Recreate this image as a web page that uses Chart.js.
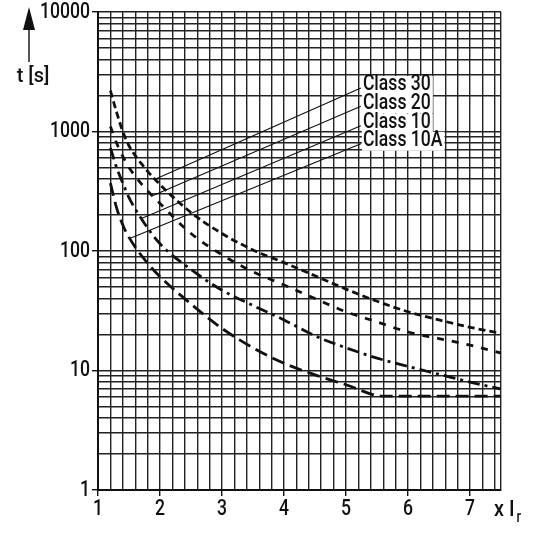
<!DOCTYPE html>
<html>
<head>
<meta charset="utf-8">
<script src="https://cdn.jsdelivr.net/npm/chart.js@4.4.1/dist/chart.umd.min.js"></script>
<style>
html,body{margin:0;padding:0;background:#fff;}
#wrap{width:540px;height:540px;position:relative;}
</style>
</head>
<body>
<div id="wrap"><canvas id="c" width="540" height="540"></canvas></div>
<script>
// ---- data ----
const xCommon = [1.2, 1.3, 1.4, 1.5, 1.75, 2, 2.5, 3, 3.5, 4, 4.5, 5, 5.5, 6, 6.5, 7, 7.5];
const class30 = [2200, 1450, 1000, 760, 500, 360, 210, 140, 102, 80, 62, 48, 38, 31, 26.5, 23, 20.5];
const class20 = [1100, 800, 620, 500, 340, 250, 140, 93, 67, 52, 40, 31, 25.5, 21, 18.5, 16.3, 14];
const class10 = [730, 500, 370, 280, 170, 115, 70, 47, 35, 26.5, 19.5, 15.5, 12.7, 10.8, 9.3, 8.0, 7.0];
const x10A = [1.2, 1.3, 1.4, 1.5, 1.75, 2, 2.5, 3, 3.5, 4, 4.5, 5, 5.6, 6, 6.5, 7, 7.5];
const class10A = [370, 230, 165, 130, 85, 61, 36, 22.5, 15.5, 11.5, 9.2, 7.6, 6.1, 6.1, 6.1, 6.1, 6.1];
const seriesNames = ['Class 30', 'Class 20', 'Class 10', 'Class 10A'];
// leader lines: point on curve -> label anchor (data units)
const leaderFromX = [1.93, 1.87, 1.71, 1.52];
const leaderFromY = [400, 288, 188, 128];
const labelAnchorX = 5.24;
const labelAnchorY = [2313, 1623, 1119, 790];
const xTickLabels = ['1', '2', '3', '4', '5', '6', '7'];
const yTickLabels = ['1', '10', '100', '1000', '10000'];
const yAxisTitle = 't [s]';
const xAxisTitle = 'x I';
const xAxisTitleSub = 'r';

const FONT = "Roboto, 'Liberation Sans', sans-serif";
const NARROW = 0.8;

function pts(xs, ys) { return xs.map((x, i) => ({x: x, y: ys[i]})); }

const dashStyles = [[7, 4], [7, 8], [12, 5, 3, 5], [13, 6]];
const allY = [class30, class20, class10, class10A];
const allX = [xCommon, xCommon, xCommon, x10A];

const datasets = seriesNames.map((n, i) => ({
  label: n,
  data: pts(allX[i], allY[i]),
  borderColor: '#111',
  borderWidth: 2.8,
  borderDash: dashStyles[i],
  pointRadius: 0,
  fill: false,
  cubicInterpolationMode: 'monotone'
}));

// draw text horizontally condensed (real text)
function narrowText(ctx, txt, x, y, align, k) {
  const f = k || NARROW;
  ctx.save();
  const w = ctx.measureText(txt).width * f;
  let lx = x;
  if (align === 'right') lx = x - w;
  else if (align === 'center') lx = x - w / 2;
  ctx.translate(lx, y);
  ctx.scale(f, 1);
  ctx.textAlign = 'left';
  ctx.fillText(txt, 0, 0);
  ctx.restore();
  return w;
}

const annot = {
  id: 'annot',
  afterDatasetsDraw(chart) {
    const ctx = chart.ctx;
    const xs = chart.scales.x, ys = chart.scales.y;
    ctx.save();
    // leader lines
    ctx.strokeStyle = '#111';
    ctx.lineWidth = 1.1;
    ctx.setLineDash([]);
    for (let i = 0; i < seriesNames.length; i++) {
      ctx.beginPath();
      ctx.moveTo(xs.getPixelForValue(leaderFromX[i]), ys.getPixelForValue(leaderFromY[i]));
      ctx.lineTo(xs.getPixelForValue(labelAnchorX), ys.getPixelForValue(labelAnchorY[i]));
      ctx.stroke();
    }
    // labels with white background
    ctx.font = '500 22px ' + FONT;
    ctx.textBaseline = 'middle';
    for (let i = 0; i < seriesNames.length; i++) {
      const tx = xs.getPixelForValue(labelAnchorX) + 2;
      const ty = ys.getPixelForValue(labelAnchorY[i]) - 3;
      const w = ctx.measureText(seriesNames[i]).width * NARROW;
      ctx.fillStyle = '#fff';
      ctx.fillRect(tx - 1, ty - 9, w + 3, 19);
      ctx.fillStyle = '#111';
      narrowText(ctx, seriesNames[i], tx, ty, 'left');
    }
    ctx.restore();
  },
  afterDraw(chart) {
    const ctx = chart.ctx;
    const xs = chart.scales.x, ys = chart.scales.y;
    ctx.save();
    ctx.fillStyle = '#111';
    ctx.font = '500 22px ' + FONT;
    ctx.textBaseline = 'middle';
    // tick labels
    yTickLabels.forEach(l => {
      narrowText(ctx, l, ys.left + ys.width - 8, ys.getPixelForValue(Number(l)), 'right');
    });
    xTickLabels.forEach(l => {
      narrowText(ctx, l, xs.getPixelForValue(Number(l)), xs.top + 19, 'center');
    });
    // arrow
    ctx.strokeStyle = '#555';
    ctx.lineWidth = 2;
    ctx.beginPath();
    ctx.moveTo(29, 62);
    ctx.lineTo(29, 26);
    ctx.stroke();
    ctx.beginPath();
    ctx.moveTo(29, 7);
    ctx.lineTo(23, 30);
    ctx.lineTo(35, 30);
    ctx.closePath();
    ctx.fill();
    ctx.font = '500 21px ' + FONT;
    narrowText(ctx, yAxisTitle, 33, 77, 'center', 0.95);
    // x title
    ctx.font = '500 22px ' + FONT;
    ctx.textBaseline = 'alphabetic';
    const w = narrowText(ctx, xAxisTitle, 494, 516, 'left', 0.9);
    ctx.font = '500 16px ' + FONT;
    narrowText(ctx, xAxisTitleSub, 494 + w + 2, 522, 'left');
    ctx.restore();
  }
};

function xTicks(scale) {
  const t = [];
  for (let k = 10; k < 75; k += 2) t.push({value: k / 10});
  t.push({value: 7.5});
  scale.ticks = t;
}
function yTicks(scale) {
  const t = [];
  for (let d = 0; d < 4; d++) for (let m = 1; m <= 9; m++) t.push({value: m * Math.pow(10, d)});
  t.push({value: 10000});
  scale.ticks = t;
}
function isInt(v) { return Math.abs(v - Math.round(v)) < 1e-6; }
function isPow10(v) { const l = Math.log10(v); return Math.abs(l - Math.round(l)) < 1e-6; }

new Chart(document.getElementById('c'), {
  type: 'line',
  data: {datasets: datasets},
  options: {
    responsive: false,
    animation: false,
    devicePixelRatio: 1,
    layout: {padding: {top: 12, right: 39, left: 0, bottom: 0}},
    plugins: {legend: {display: false}, tooltip: {enabled: false}},
    scales: {
      x: {
        type: 'linear', min: 1, max: 7.5,
        afterBuildTicks: xTicks,
        afterFit: s => { s.height = 50; },
        border: {color: '#111', width: 2},
        grid: {
          color: '#222', lineWidth: 1.4, drawTicks: true, tickLength: 6,
          tickColor: c => (c.tick && isInt(c.tick.value) ? '#111' : 'rgba(0,0,0,0)')
        },
        ticks: {
          autoSkip: false, maxRotation: 0, padding: 2, color: 'rgba(0,0,0,0)',
          font: {family: FONT, size: 16},
          callback: v => (isInt(v) ? String(Math.round(v)) : '')
        }
      },
      y: {
        type: 'logarithmic', min: 1, max: 10000,
        afterBuildTicks: yTicks,
        afterFit: s => { s.width = 98; },
        border: {color: '#111', width: 2},
        grid: {
          color: '#222', lineWidth: 1.4, drawTicks: true, tickLength: 6,
          tickColor: c => (c.tick && isPow10(c.tick.value) ? '#111' : 'rgba(0,0,0,0)')
        },
        ticks: {
          autoSkip: false, padding: 2, color: 'rgba(0,0,0,0)',
          font: {family: FONT, size: 16},
          callback: v => (isPow10(v) ? String(Math.round(v)) : '')
        }
      }
    }
  },
  plugins: [annot]
});
</script>
</body>
</html>
